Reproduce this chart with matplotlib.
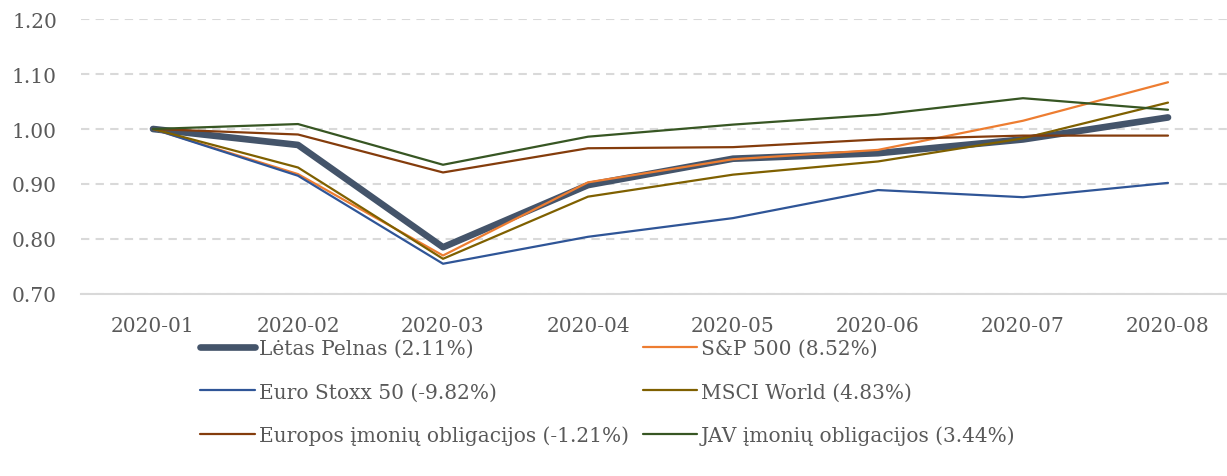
import matplotlib.pyplot as plt

months = ['2020-01', '2020-02', '2020-03', '2020-04', '2020-05', '2020-06', '2020-07', '2020-08']

letas_pelnas = [1.000, 0.971, 0.785, 0.898, 0.946, 0.956, 0.981, 1.021]
sp500 = [1.000, 0.918, 0.770, 0.903, 0.945, 0.962, 1.015, 1.085]
euro_stoxx = [1.000, 0.915, 0.755, 0.804, 0.838, 0.889, 0.876, 0.902]
msci_world = [1.000, 0.930, 0.764, 0.877, 0.917, 0.941, 0.983, 1.048]
europos_obl = [1.000, 0.990, 0.921, 0.965, 0.967, 0.981, 0.988, 0.988]
jav_obl = [1.000, 1.009, 0.935, 0.986, 1.008, 1.026, 1.056, 1.035]

labels = ['Lėtas Pelnas (2.11%)', 'S&P 500 (8.52%)', 'Euro Stoxx 50 (-9.82%)',
          'MSCI World (4.83%)', 'Europos įmonių obligacijos (-1.21%)', 'JAV įmonių obligacijos (3.44%)']
series = [letas_pelnas, sp500, euro_stoxx, msci_world, europos_obl, jav_obl]
colors = ['#44546A', '#ED7D31', '#2F5597', '#7F6000', '#843C0C', '#375623']
widths = [4.8, 1.6, 1.6, 1.6, 1.6, 1.6]

plt.rcParams['font.family'] = ['DejaVu Serif']
txt = '#595959'
fs = 14.5

fig = plt.figure(figsize=(12.27, 4.77), dpi=100)
ax = fig.add_axes([80.5 / 1227, 182 / 477, 1160 / 1227, 275 / 477])

x = range(len(months))
handles = {}
for lab, ys, c, w in zip(labels, series, colors, widths):
    h, = ax.plot(x, ys, color=c, lw=w, solid_capstyle='round', solid_joinstyle='round', label=lab)
    handles[lab] = h

ax.set_xlim(-0.5, 7.5)
ax.set_ylim(0.70, 1.20)
ax.set_yticks([0.70, 0.80, 0.90, 1.00, 1.10, 1.20])
ax.set_yticklabels(['%.2f' % v for v in ax.get_yticks()])
ax.set_xticks(list(x))
ax.set_xticklabels(months)
ax.tick_params(axis='both', length=0, labelsize=fs, colors=txt)
ax.tick_params(axis='y', pad=17)
ax.tick_params(axis='x', pad=16)
ax.yaxis.grid(True, color='#D9D9D9', lw=1.5, ls=(0, (4, 3)))
ax.set_axisbelow(True)
for s in ['top', 'right', 'left']:
    ax.spines[s].set_visible(False)
ax.spines['bottom'].set_color('#D9D9D9')
ax.spines['bottom'].set_linewidth(1.5)

order = [labels[0], labels[2], labels[4], labels[1], labels[3], labels[5]]
leg = fig.legend([handles[l] for l in order], order, ncol=2, loc='upper left',
                 bbox_to_anchor=(182 / 1227, 1 - 322 / 477), frameon=False,
                 fontsize=fs, labelcolor=txt, handlelength=2.7, handletextpad=0.2,
                 columnspacing=0.7, labelspacing=1.2)

fig.savefig('out.png', dpi=100)
